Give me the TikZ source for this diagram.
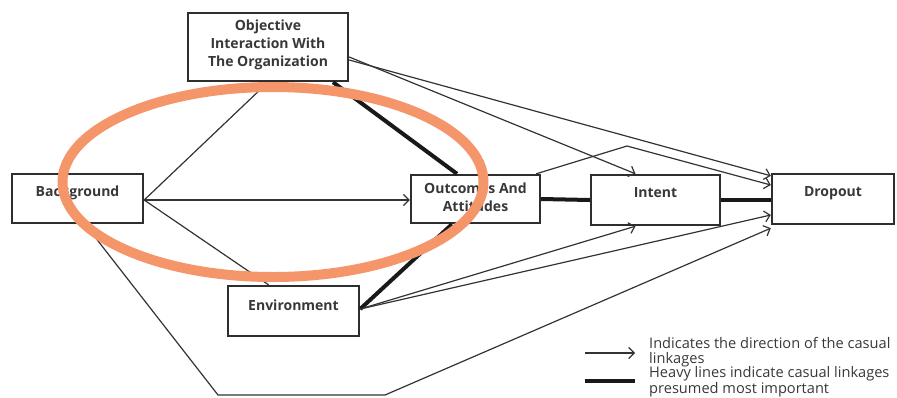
\documentclass[tikz,border=0pt]{standalone}
\usepackage{fontspec}
\setmainfont{Open Sans}
\usetikzlibrary{arrows.meta,calc}
\definecolor{boxc}{HTML}{2E2E2E}
\definecolor{txtc}{HTML}{383838}
\definecolor{linec}{HTML}{333333}
\definecolor{ovalc}{RGB}{244,150,106}
\begin{document}
\begin{tikzpicture}[x=1pt,y=-1pt,
  box/.style={draw=boxc,line width=2.4pt,inner sep=0pt},
  lbl/.style={font=\fontsize{14}{18}\selectfont\bfseries,text=txtc,align=center,inner sep=0pt},
  thin/.style={draw=linec,line width=1.2pt},
  arr/.style={thin,-{Straight Barb[length=5.5pt,width=11pt]}},
  heavy/.style={draw=black!90,line width=4pt},
  legtxt/.style={font=\fontsize{14.6}{15.4}\selectfont,text=txtc,align=left,inner sep=0pt,anchor=north west}
]
\useasboundingbox (0,0) rectangle (897,397);
% boxes
\node[box,minimum width=160pt,minimum height=68pt] (obj) at (268,47) {};
\node[box,minimum width=131pt,minimum height=49pt] (bg) at (77.5,198.5) {};
\node[box,minimum width=129pt,minimum height=48pt] (out) at (475.5,199) {};
\node[box,minimum width=129pt,minimum height=50pt] (int) at (655.5,200) {};
\node[box,minimum width=122pt,minimum height=50pt] (drop) at (833,199) {};
\node[box,minimum width=131pt,minimum height=50pt] (env) at (293.5,311) {};
% labels
\node[lbl] (objt) at (268,45) {Objective\\Interaction With\\The Organization};
\node[lbl] (bgt) at (77.5,193) {Background};
\node[lbl] (outt) at (475.5,197.5) {Outcomes And\\Attitudes};
\node[lbl] (intt) at (655.5,193) {Intent};
\node[lbl] (dropt) at (833,193) {Dropout};
\node[lbl] (envt) at (293.5,305) {Environment};
% connectors
\draw[thin] ([yshift=-1.5pt]bg.east) -- (obj.south);
\draw[arr] ([yshift=-1.5pt]bg.east) -- ([yshift=-1pt]out.west);
\draw[thin] ([yshift=-1.5pt]bg.east) -- ([xshift=-25pt]env.north);
\coordinate (c1) at (218,395);
\coordinate (c2) at (385,395);
\draw[arr] ([xshift=7.5pt]bg.south) -- (c1) -- (c2) -- ([yshift=-3pt]drop.south west);
\draw[heavy] ([xshift=65pt]obj.south) -- ([xshift=-18.5pt]out.north);
\draw[arr] ([yshift=-10pt]obj.east) -- ([xshift=-20pt]int.north);
\draw[arr] ([yshift=-13pt]obj.east) -- ([yshift=-3pt]drop.north west);
\draw[heavy] (out.east) -- (int.west);
\draw[heavy] (int.east) -- ([yshift=-1pt]drop.west);
\coordinate (pk) at (627,146);
\draw[arr] ([xshift=-5pt]out.north east) -- (pk) -- ([yshift=14pt]drop.west);
\draw[heavy] ([yshift=2pt]env.east) -- ([xshift=-23.5pt]out.south);
\draw[arr] ([yshift=2pt]env.east) -- ([xshift=-20pt]int.south);
\draw[arr] ([yshift=2pt]env.east) -- ([yshift=-16pt]drop.west);
% legend
\coordinate (la1) at (585,353);
\coordinate (la2) at (635,353);
\draw[arr] (la1) -- (la2);
\coordinate (lh1) at (585,381);
\coordinate (lh2) at (635,381);
\draw[heavy,line width=4.5pt] (lh1) -- (lh2);
\node[legtxt] (leg1) at (649,337) {Indicates the direction of the casual\\linkages};
\node[legtxt] (leg2) at (649,366.5) {Heavy lines indicate casual linkages\\presumed most important};
% highlight oval
\draw[ovalc,line width=10pt] (273,182) ellipse [x radius=210.5,y radius=95];
\end{tikzpicture}
\end{document}
